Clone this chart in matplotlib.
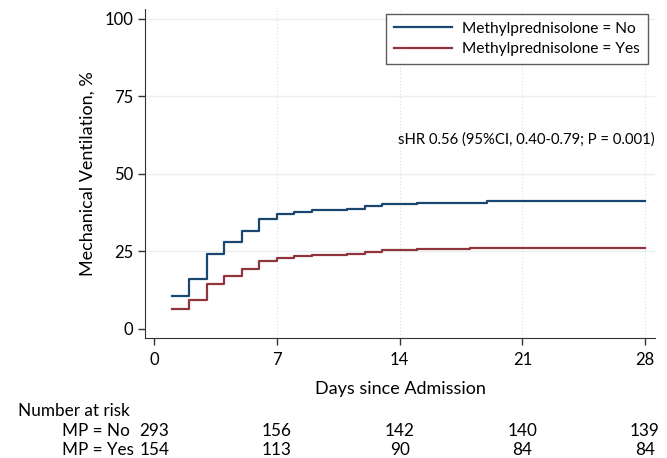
import matplotlib
matplotlib.use("Agg")
import matplotlib.pyplot as plt
import matplotlib.transforms as mtransforms

plt.rcParams['font.family'] = ['Lato', 'DejaVu Sans']

# cumulative incidence (%) by day
days = [1, 2, 3, 4, 5, 6, 7, 8, 9, 10, 11, 12, 13, 15, 18, 19, 28]
mp_no = [10.7, 16.0, 24.0, 28.1, 31.7, 35.5, 37.1, 37.6, 38.2, 38.2, 38.8, 39.5, 40.4, 40.5, 40.7, 41.2, 41.2]
mp_yes = [6.3, 9.4, 14.4, 16.9, 19.4, 22.0, 22.9, 23.4, 23.7, 23.7, 24.1, 24.7, 25.4, 25.6, 25.9, 26.0, 26.0]

risk_days = [0, 7, 14, 21, 28]
risk_no = [293, 156, 142, 140, 139]
risk_yes = [154, 113, 90, 84, 84]

blue = '#1a476f'
red = '#90353b'

fig = plt.figure(figsize=(6.67, 4.58), dpi=100)
ax = fig.add_axes([145 / 667, 1 - 337.7 / 458, 510 / 667, 328.7 / 458])

ax.step(days, mp_no, where='post', color=blue, lw=1.6, label='Methylprednisolone = No')
ax.step(days, mp_yes, where='post', color=red, lw=1.6, label='Methylprednisolone = Yes')

ax.set_xlim(-0.53, 28.57)
ax.set_ylim(-2.9, 103.2)
ax.set_xticks(risk_days)
ax.set_yticks([0, 25, 50, 75, 100])
ax.tick_params(labelsize=12, length=5, color='#333333', width=1)
ax.tick_params(axis='x', pad=5)
for s in ['top', 'right']:
    ax.spines[s].set_visible(False)
for s in ['left', 'bottom']:
    ax.spines[s].set_color('#333333')

for y in [25, 50, 75, 100]:
    ax.axhline(y, color='#e8f0f2', lw=1, zorder=0)
for x in [7, 14, 21, 28]:
    ax.axvline(x, color='#dddddd', lw=0.8, ls=(0, (1, 2)), zorder=0)

ax.set_ylabel('Mechanical Ventilation, %', fontsize=13, labelpad=6)
ax.set_xlabel('Days since Admission', fontsize=13, labelpad=10)

leg = ax.legend(loc='upper right', bbox_to_anchor=(648 / 667, 1 - 14 / 458), bbox_transform=fig.transFigure,
                fontsize=11.2, frameon=True, fancybox=False, edgecolor='#333333',
                handlelength=3.7, handletextpad=0.7, borderpad=0.5, labelspacing=0.4,
                borderaxespad=0)
leg.get_frame().set_linewidth(1)

ax.text(655 / 667, 1 - 140 / 458, 'sHR 0.56 (95%CI, 0.40-0.79; P = 0.001)', transform=fig.transFigure,
        ha='right', va='center', fontsize=10.7)

# number at risk table
fig.text(18 / 667, 1 - 411 / 458, 'Number at risk', fontsize=12.3, va='center')
fig.text(62 / 667, 1 - 431 / 458, 'MP = No', fontsize=12.3, va='center')
fig.text(62 / 667, 1 - 450 / 458, 'MP = Yes', fontsize=12.3, va='center')
trans = mtransforms.blended_transform_factory(ax.transData, fig.transFigure)
for d, n1, n2 in zip(risk_days, risk_no, risk_yes):
    ax.text(d, 1 - 431 / 458, str(n1), transform=trans, ha='center', va='center', fontsize=12.3)
    ax.text(d, 1 - 450 / 458, str(n2), transform=trans, ha='center', va='center', fontsize=12.3)

fig.savefig('out.png', dpi=100)
